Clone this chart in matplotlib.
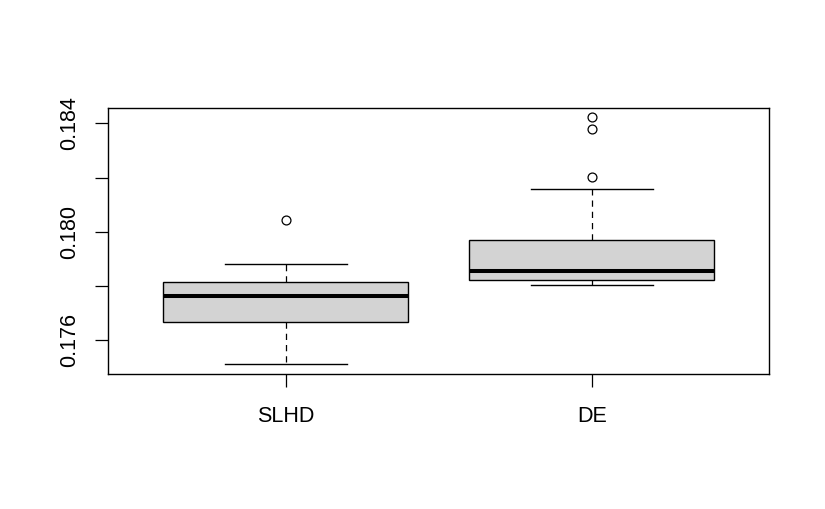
import matplotlib
matplotlib.use("Agg")
import matplotlib.pyplot as plt

plt.rcParams['font.family'] = ['Liberation Sans', 'DejaVu Sans']

# five-number summaries (R boxplot)
groups = ["SLHD", "DE"]
whisker_low = [0.17510, 0.17802]
box_low = [0.17667, 0.17821]
medians = [0.17764, 0.17856]
box_high = [0.17813, 0.17968]
whisker_high = [0.17881, 0.18157]
outliers = [[0.18044], [0.18203, 0.18378, 0.18425]]

y_ticks = [0.176, 0.178, 0.180, 0.182, 0.184]
y_labels = ["0.176", "", "0.180", "", "0.184"]

stats = []
for i, name in enumerate(groups):
    stats.append({
        "label": name,
        "whislo": whisker_low[i],
        "q1": box_low[i],
        "med": medians[i],
        "q3": box_high[i],
        "whishi": whisker_high[i],
        "fliers": outliers[i],
    })

fig = plt.figure(figsize=(8.25, 5.09), dpi=100)
ax = fig.add_axes([108.3 / 825, 1 - 374.3 / 509, 661 / 825, 266 / 509])

ax.bxp(
    stats,
    positions=[1, 2],
    widths=0.8,
    capwidths=0.4,
    patch_artist=True,
    boxprops=dict(facecolor="#d3d3d3", edgecolor="black", linewidth=1.0),
    medianprops=dict(color="black", linewidth=2.9, solid_capstyle="butt"),
    whiskerprops=dict(color="black", linewidth=0.9, linestyle=(0, (5, 4))),
    capprops=dict(color="black", linewidth=1.0),
    flierprops=dict(marker="o", markersize=6.4, markerfacecolor="none",
                    markeredgecolor="black", markeredgewidth=0.9),
)

ax.set_xlim(0.42, 2.58)
ax.set_ylim(0.17473, 0.18456)
ax.set_yticks(y_ticks)
ax.set_yticklabels(y_labels, rotation=90, va="center")
ax.set_xticks([1, 2])
ax.set_xticklabels(groups)

ax.tick_params(axis="both", direction="out", length=9.6, width=0.9,
               labelsize=15.5)
ax.tick_params(axis="x", pad=13)
ax.tick_params(axis="y", pad=10.5)
for s in ax.spines.values():
    s.set_linewidth(1.0)

fig.savefig("out.png", dpi=100)
